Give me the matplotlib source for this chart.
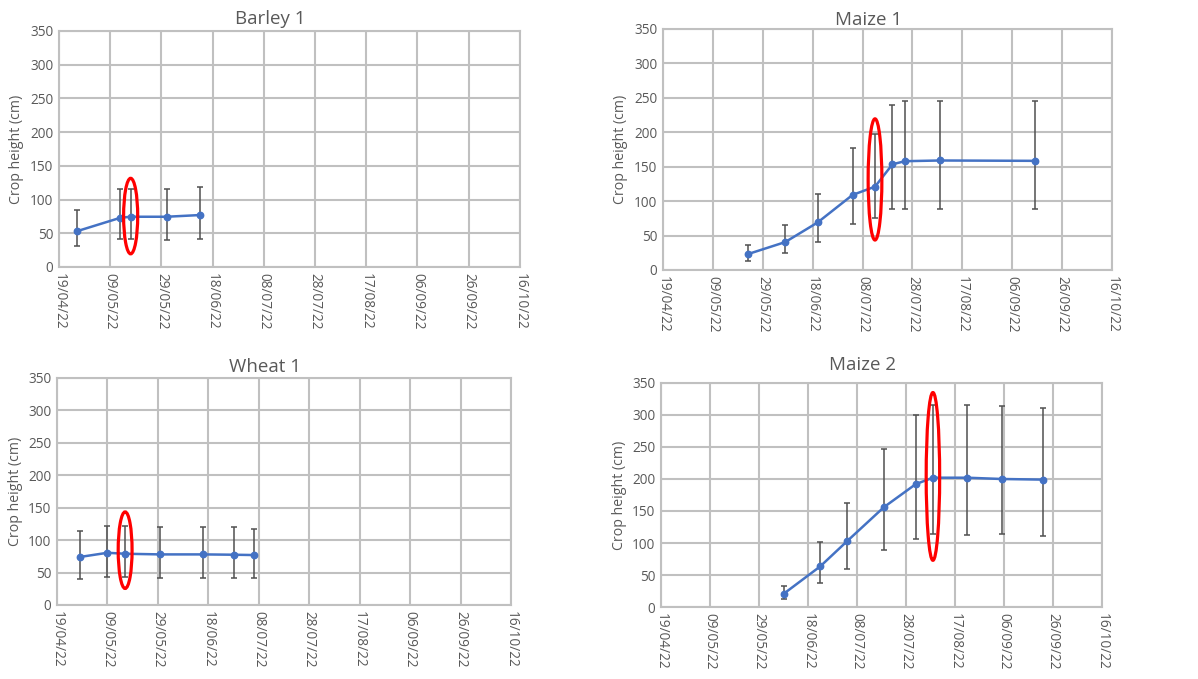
import datetime as dt

import matplotlib
matplotlib.use("Agg")
import matplotlib.pyplot as plt
import matplotlib.dates as mdates
from matplotlib.patches import Ellipse

# per panel: sample dates, mean height, upper / lower end of error bar (cm)
barley_dates = ["26/04/22", "13/05/22", "17/05/22", "31/05/22", "13/06/22"]
barley_mean = [53, 73, 74.5, 74.5, 77]
barley_hi = [84, 115, 116, 116, 118]
barley_lo = [31.5, 41, 41, 40, 41]

maize1_dates = ["23/05/22", "07/06/22", "20/06/22", "04/07/22", "13/07/22",
                "20/07/22", "25/07/22", "08/08/22", "15/09/22"]
maize1_mean = [23, 40.5, 69, 109, 121, 153.5, 158, 159, 158.5]
maize1_hi = [36, 65.5, 110, 177, 197, 240, 246, 246, 246]
maize1_lo = [13.5, 25, 40, 67, 75, 88, 88, 88, 88]

wheat1_dates = ["28/04/22", "09/05/22", "16/05/22", "30/05/22", "16/06/22",
                "28/06/22", "06/07/22"]
wheat1_mean = [74, 80.5, 79, 78, 78, 77.5, 77]
wheat1_hi = [114, 122.5, 122.5, 119.5, 119.5, 119.5, 117.5]
wheat1_lo = [40.5, 42.5, 42.5, 42, 42, 41, 41]

maize2_dates = ["08/06/22", "23/06/22", "04/07/22", "19/07/22", "01/08/22",
                "08/08/22", "22/08/22", "05/09/22", "22/09/22"]
maize2_mean = [20.5, 63.5, 103, 156, 192, 202, 202, 200, 199]
maize2_hi = [33, 101, 163, 247, 299.5, 315, 315, 313.5, 311]
maize2_lo = [12, 38, 60, 89.5, 107, 113.5, 112.5, 113.5, 111.5]

# highlighted sample (red ellipse): centre date, centre y, height (cm)
highlight = {
    "Barley 1": ("17/05/22", 75.5, 112),
    "Maize 1": ("13/07/22", 131.5, 176),
    "Wheat 1": ("16/05/22", 84.5, 118),
    "Maize 2": ("08/08/22", 204, 262),
}

TICK_START = dt.date(2022, 4, 19)
TICK_STEP = 20
N_TICKS = 10
GREY = "#595959"
BLUE = "#4472C4"

plt.rcParams["font.family"] = ["Open Sans", "DejaVu Sans"]


def to_dates(strs):
    return [dt.datetime.strptime(s, "%d/%m/%y") for s in strs]


def draw_panel(ax, title, dates, mean, hi, lo, title_pad):
    xs = to_dates(dates)
    err = [[m - l for m, l in zip(mean, lo)], [h - m for m, h in zip(mean, hi)]]
    ax.errorbar(xs, mean, yerr=err, fmt="none", ecolor="#505050",
                elinewidth=1.1, capsize=2.3, capthick=1.1, zorder=3)
    ax.plot(xs, mean, color=BLUE, linewidth=1.8, marker="o", markersize=4.6,
            zorder=4)

    ticks = [TICK_START + dt.timedelta(days=TICK_STEP * i) for i in range(N_TICKS)]
    ax.set_xlim(ticks[0], ticks[-1])
    ax.set_xticks(ticks)
    ax.xaxis.set_major_formatter(mdates.DateFormatter("%d/%m/%y"))
    ax.set_ylim(0, 350)
    ax.set_yticks(range(0, 351, 50))

    ax.grid(True, color="#c0c0c0", linewidth=1.5)
    ax.set_axisbelow(True)
    for s in ax.spines.values():
        s.set_color("#c0c0c0")
        s.set_linewidth(1.5)
    ax.tick_params(length=0, colors=GREY, labelsize=9.8, pad=4)
    for lab in ax.get_xticklabels():
        lab.set_rotation(-90)
        lab.set_va("top")
        lab.set_ha("center")
    ax.set_ylabel("Crop height (cm)", color=GREY, fontsize=10.2)

    # Excel centres the title on the chart area, a bit left of the plot centre
    t = ax.set_title(title, color=GREY, fontsize=13.5, pad=title_pad)
    t.set_x(0.5 - 19.0 / (ax.get_position().width * 1198))

    d, cy, h = highlight[title]
    cx = mdates.date2num(dt.datetime.strptime(d, "%d/%m/%y"))
    ax.add_patch(Ellipse((cx, cy), width=5.5, height=h, fill=False,
                         edgecolor="red", linewidth=2.3, zorder=5))


fig = plt.figure(figsize=(11.98, 6.79), dpi=100)

ax1 = fig.add_axes([0.0492, 0.6068, 0.3848, 0.3476])
ax2 = fig.add_axes([0.5534, 0.6024, 0.3748, 0.3549])
ax3 = fig.add_axes([0.0476, 0.109, 0.379, 0.3343])
ax4 = fig.add_axes([0.5518, 0.106, 0.368, 0.33])

draw_panel(ax1, "Barley 1", barley_dates, barley_mean, barley_hi, barley_lo, 5)
draw_panel(ax2, "Maize 1", maize1_dates, maize1_mean, maize1_hi, maize1_lo, 3)
draw_panel(ax3, "Wheat 1", wheat1_dates, wheat1_mean, wheat1_hi, wheat1_lo, 4)
draw_panel(ax4, "Maize 2", maize2_dates, maize2_mean, maize2_hi, maize2_lo, 9)

fig.savefig("out.png", dpi=100)
